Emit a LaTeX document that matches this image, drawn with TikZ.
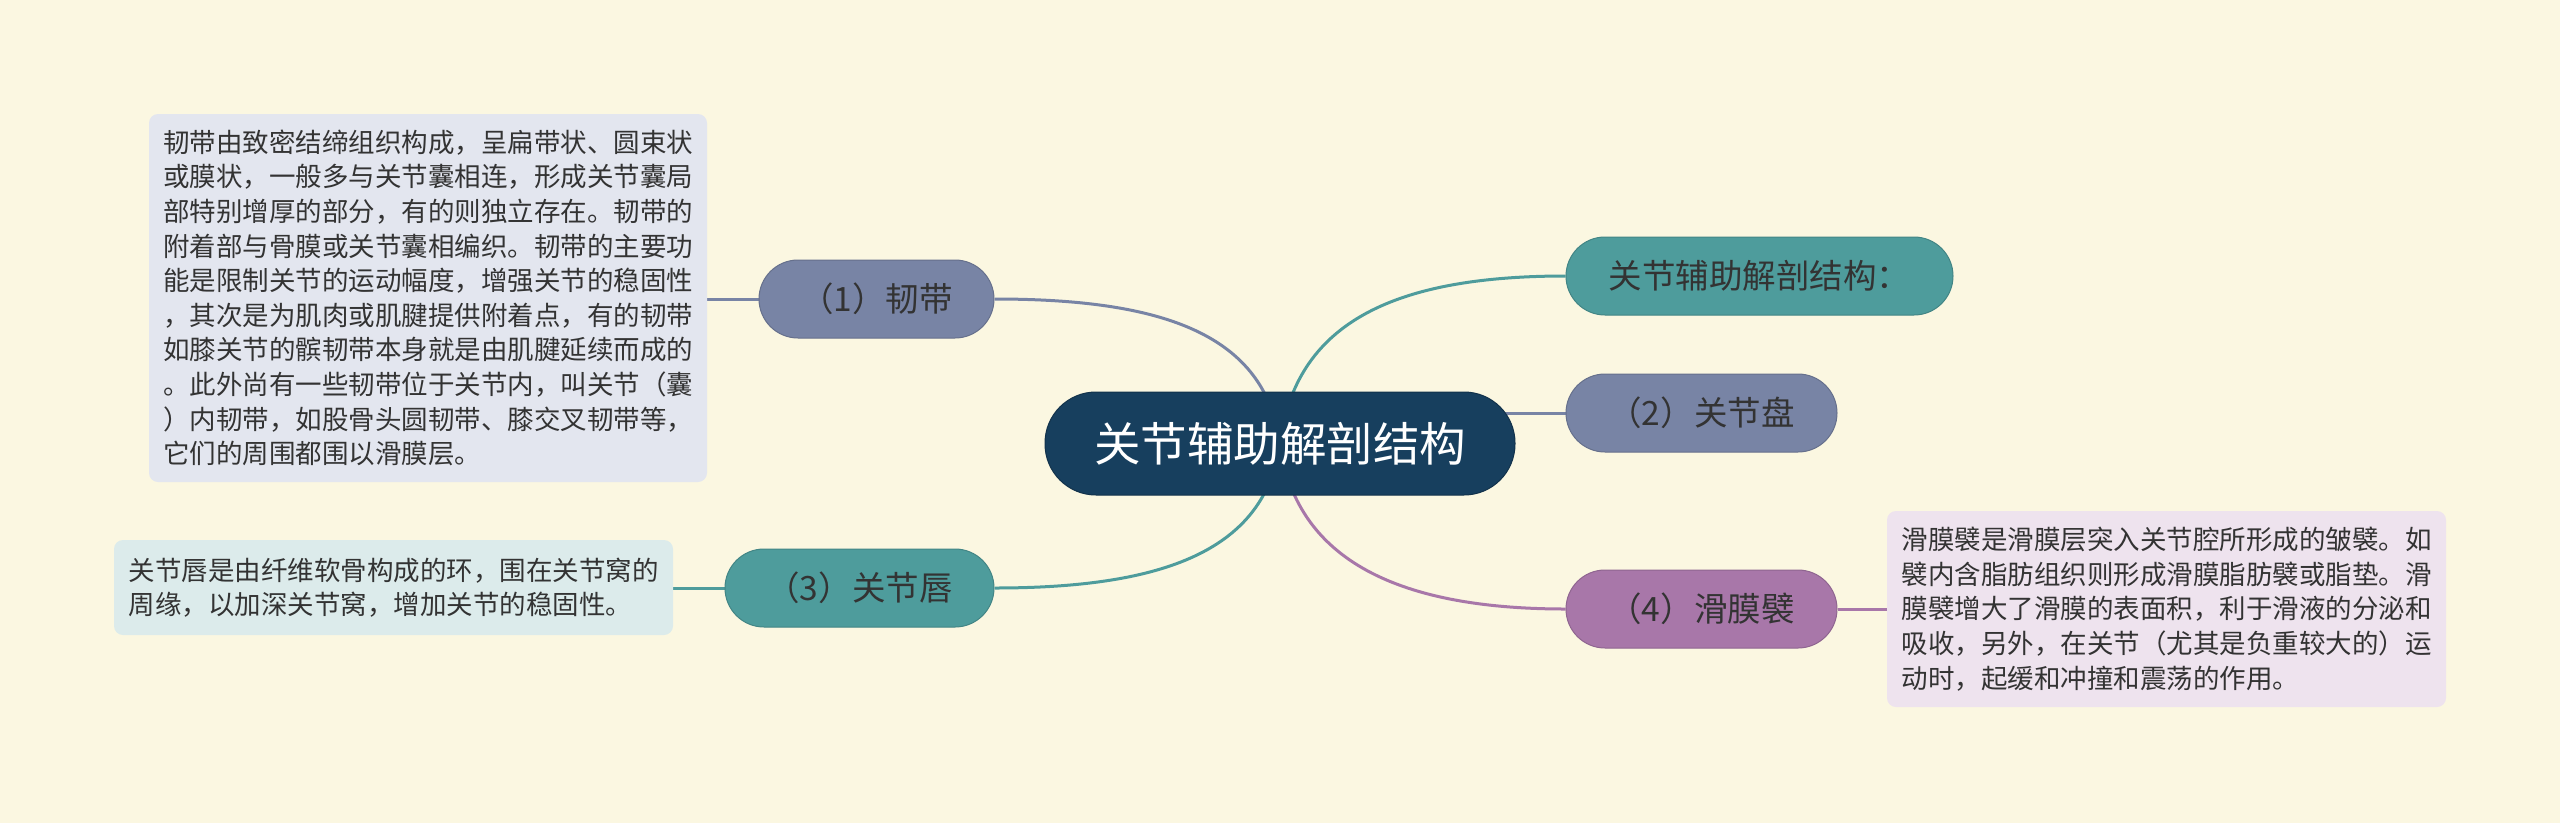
\documentclass[tikz,border=0pt]{standalone}
\usepackage{fontspec}
\setmainfont{Noto Sans CJK SC}
\usetikzlibrary{backgrounds}
\definecolor{bgc}{HTML}{FBF7E1}
\definecolor{navy}{HTML}{173F5E}
\definecolor{cslate}{HTML}{7884A5}
\definecolor{cteal}{HTML}{4E9C9C}
\definecolor{cpurple}{HTML}{A877A9}
\definecolor{dslate}{HTML}{E3E6EF}
\definecolor{dteal}{HTML}{DCEBEB}
\definecolor{dpurple}{HTML}{EEE3EE}
\definecolor{txt}{HTML}{333333}
\tikzset{
  topic/.style={rounded corners=39pt, minimum height=78pt, text=txt,
    font=\fontsize{33.5}{40}\selectfont, inner sep=0pt, draw=#1!85!black, fill=#1, line width=1pt},
  desc/.style={rounded corners=9pt, fill=#1, text=txt, align=left,
    font=\fontsize{26.5}{34.6}\selectfont, inner sep=0pt},
  link/.style={line width=3pt, draw=#1},
}
\begin{document}
\begin{tikzpicture}[x=1pt,y=-1pt]
\useasboundingbox (0,0) rectangle (2560,823);
% central
\node[rounded corners=51pt, minimum width=470pt, minimum height=103pt, fill=navy, draw=navy!80!black, line width=1pt,
  text=white, font=\fontsize{46.5}{52}\selectfont, inner sep=0pt] (c) at (1280,443.5) {关节辅助解剖结构};
% topics
\node[topic=cslate, minimum width=235pt] (n1) at (876.5,299) {（1）韧带};
\node[topic=cteal, minimum width=269pt] (n3) at (859.5,588) {（3）关节唇};
\node[topic=cteal, minimum width=387pt] (nt) at (1759.5,276) {关节辅助解剖结构：};
\node[topic=cslate, minimum width=271pt] (n2) at (1701.5,413) {（2）关节盘};
\node[topic=cpurple, minimum width=271pt] (n4) at (1701.5,609) {（4）滑膜襞};
% descriptions
\node[desc=dslate, minimum width=558pt, minimum height=368pt] (d1) at (428,298) {韧带由致密结缔组织构成，呈扁带状、圆束状\\或膜状，一般多与关节囊相连，形成关节囊局\\部特别增厚的部分，有的则独立存在。韧带的\\附着部与骨膜或关节囊相编织。韧带的主要功\\能是限制关节的运动幅度，增强关节的稳固性\\，其次是为肌肉或肌腱提供附着点，有的韧带\\如膝关节的髌韧带本身就是由肌腱延续而成的\\。此外尚有一些韧带位于关节内，叫关节（囊\\）内韧带，如股骨头圆韧带、膝交叉韧带等，\\它们的周围都围以滑膜层。};
\node[desc=dteal, minimum width=559pt, minimum height=95pt] (d3) at (393.5,587.5) {关节唇是由纤维软骨构成的环，围在关节窝的\\周缘，以加深关节窝，增加关节的稳固性。};
\node[desc=dpurple, minimum width=559pt, minimum height=196pt] (d4) at (2166.5,609) {滑膜襞是滑膜层突入关节腔所形成的皱襞。如\\襞内含脂肪组织则形成滑膜脂肪襞或脂垫。滑\\膜襞增大了滑膜的表面积，利于滑液的分泌和\\吸收，另外，在关节（尤其是负重较大的）运\\动时，起缓和冲撞和震荡的作用。};
\begin{scope}[on background layer]
\fill[bgc] (0,0) rectangle (2560,823);
\draw[link=cslate] (c.center) .. controls (1265,335) and (1165,299) .. (n1.east);
\draw[link=cteal] (c.center) .. controls (1295,325) and (1390,276) .. (nt.west);
\draw[link=cteal] (c.center) .. controls (1265,550) and (1165,588) .. (n3.east);
\draw[link=cpurple] (c.center) .. controls (1295,555) and (1390,609) .. (n4.west);
\draw[link=cslate] (n2.west) -- (n2.west -| c.center);
\draw[link=cslate] (n1.west) -- (n1.west -| d1.east);
\draw[link=cteal] (n3.west) -- (n3.west -| d3.east);
\draw[link=cpurple] (n4.east) -- (n4.east -| d4.west);
\end{scope}
\end{tikzpicture}
\end{document}
